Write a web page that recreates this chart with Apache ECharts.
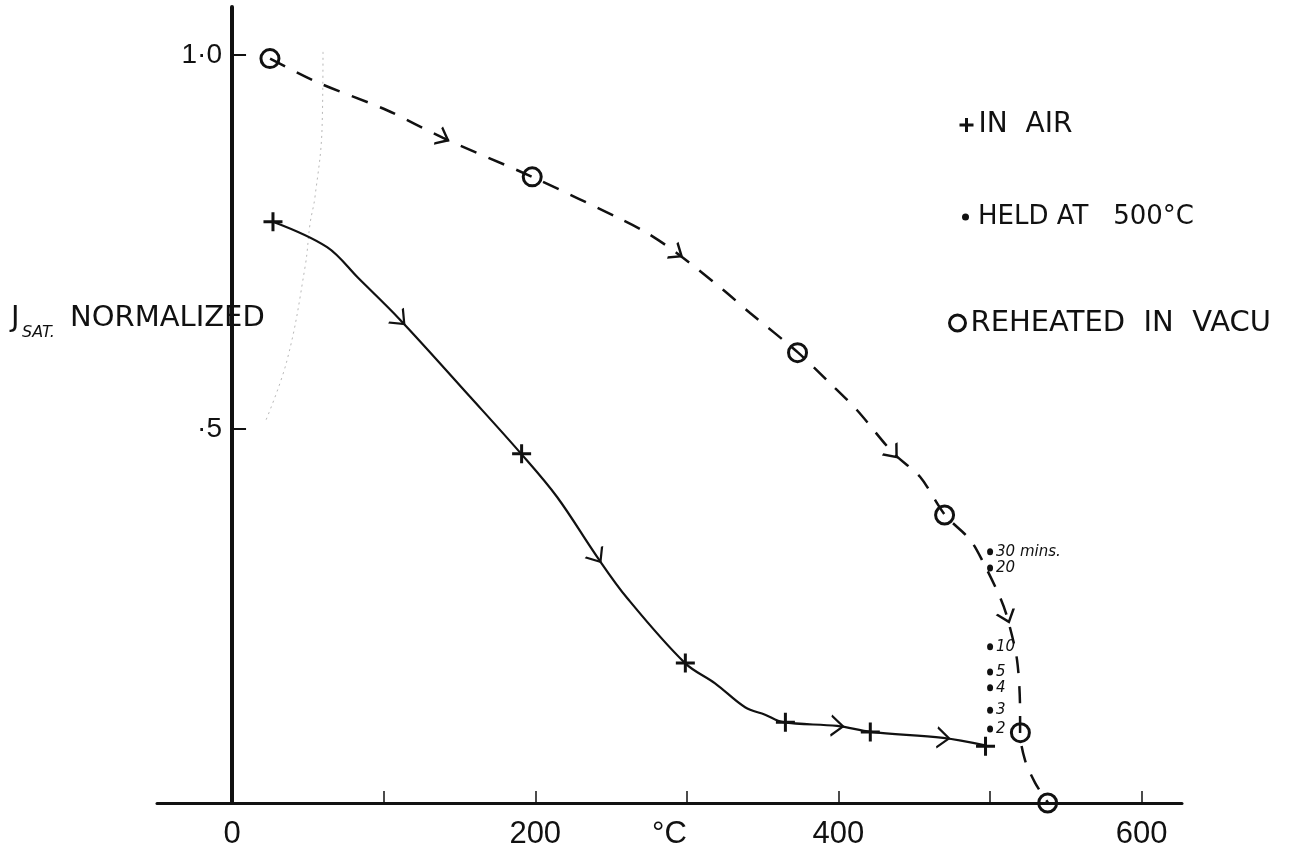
<!DOCTYPE html>
<html>
<head>
<meta charset="utf-8">
<title>J sat. normalized vs temperature</title>
<script src="https://cdn.jsdelivr.net/npm/echarts@6/dist/echarts.min.js"></script>
<style>
  html, body { margin: 0; padding: 0; background: #fff; }
  #chart { width: 1310px; height: 855px; }
</style>
</head>
<body>
<div id="chart"></div>
<script>
// ---- data: temperature (°C) vs normalized saturation current density ----
const airTemps   = [27, 191, 299, 365, 421, 497];
const airValues  = [0.777, 0.467, 0.187, 0.108, 0.095, 0.076];

// path of the hand-drawn solid curve through the in-air readings
const airCurve = [
  [27, 0.777], [62.7, 0.743], [83.1, 0.702], [110.8, 0.646], [157.0, 0.543],
  [190.6, 0.467], [214.4, 0.409], [240.8, 0.329], [260.6, 0.274],
  [298.8, 0.187], [318.6, 0.160], [338.4, 0.128], [351.6, 0.118], [363.5, 0.108],
  [399.1, 0.103], [421.5, 0.095], [469.0, 0.087], [496.7, 0.077]
];

const vacuumTemps  = [25, 198, 373, 470, 520, 538];
const vacuumValues = [0.995, 0.837, 0.602, 0.385, 0.094, 0];

// path of the dashed curve through the reheated-in-vacuum readings
const vacuumCurve = [
  [25.1, 0.995], [56.7, 0.963], [102.2, 0.926], [139.2, 0.889], [197.9, 0.837],
  [257.9, 0.779], [273.7, 0.762], [293.5, 0.735], [323.9, 0.686], [341.7, 0.655],
  [373.4, 0.602], [394.5, 0.561], [412.3, 0.525], [436.0, 0.468], [453.8, 0.436],
  [470.3, 0.385], [486.8, 0.352], [495.4, 0.322], [506.6, 0.275], [511.2, 0.249],
  [517.8, 0.191], [519.8, 0.120], [519.8, 0.094], [523.1, 0.057], [529.7, 0.027],
  [538.3, 0]
];

// readings taken while held at 500 °C, with the time held
const heldTemp    = 500;
const heldValues  = [0.336, 0.314, 0.209, 0.175, 0.154, 0.124, 0.099];
const heldMinutes = ['30 mins.', '20', '10', '5', '4', '3', '2'];

// direction arrows drawn along each curve
const airArrows    = [[110.8, 0.646], [240.8, 0.329], [399.1, 0.103], [469.0, 0.087]];
const vacuumArrows = [[139.2, 0.889], [293.5, 0.735], [436.0, 0.468], [511.2, 0.249]];

// faint pencil construction line near the origin
const pencilGuide = [
  [60.0, 1.004], [59.4, 0.904], [54.7, 0.810], [51.5, 0.775],
  [48.2, 0.717], [36.3, 0.592], [21.8, 0.509]
];

// axis ticks and labels
const xTickValues  = [100, 200, 300, 400, 500, 600];
const xLabelValues = [0, 200, 400, 600];
const yTickValues  = [0.5, 1.0];
const yTickLabels  = ['·5', '1·0'];

// ---- drawing ----
const SANS = "'DejaVu Sans', sans-serif";
const NUM  = "'Liberation Sans', Arial, sans-serif";
const INK  = '#111';

const PLUS    = 'path://M0,10L20,10M10,0L10,20';
const RING    = 'path://M10,0A10,10 0 1,1 10,20A10,10 0 1,1 10,0Z';
const CHEVRON = 'path://M0,0L13,10L0,20';

const pairs = (xs, ys) => xs.map((x, i) => [x, ys[i]]);

const chart = echarts.init(document.getElementById('chart'), null, { renderer: 'canvas' });

const option = {
  animation: false,
  backgroundColor: '#fff',
  grid: { left: 157, right: 128, top: 7, bottom: 52, outerBoundsMode: 'none', containLabel: false },
  xAxis: {
    type: 'value',
    min: -49.5,
    max: 626.6,
    name: '°C',
    nameLocation: 'middle',
    nameGap: 16,
    nameMoveOverlap: false,
    nameTextStyle: { fontFamily: NUM, fontSize: 31, color: INK, verticalAlign: 'top' },
    splitLine: { show: false },
    axisLine: { onZero: true, lineStyle: { color: INK, width: 3 } },
    axisTick: { show: true, inside: true, length: 12, customValues: xTickValues,
                lineStyle: { color: INK, width: 1.5 } },
    axisLabel: { customValues: xLabelValues, margin: 16, fontFamily: NUM, fontSize: 31,
                 color: INK, formatter: v => String(v) }
  },
  yAxis: {
    type: 'value',
    min: 0,
    max: 1.064,
    splitLine: { show: false },
    axisLine: { onZero: true, lineStyle: { color: INK, width: 4 } },
    axisTick: { show: true, inside: true, length: 14, customValues: yTickValues,
                lineStyle: { color: INK, width: 2 } },
    // labels sit just left of the zero-positioned axis line
    axisLabel: { customValues: yTickValues, margin: -65, fontFamily: NUM, fontSize: 28, color: INK,
                 formatter: v => yTickLabels[yTickValues.indexOf(v)] }
  },
  legend: [
    {
      left: 953, top: 105, selectedMode: false, itemWidth: 14, itemHeight: 15,
      textStyle: { fontFamily: SANS, fontSize: 28, color: INK, lineHeight: 30 },
      data: [{ name: 'IN  AIR', icon: PLUS,
               itemStyle: { color: 'transparent', borderColor: INK, borderWidth: 3 } }]
    },
    {
      left: 957, top: 197, selectedMode: false, itemWidth: 7, itemHeight: 10,
      textStyle: { fontFamily: SANS, fontSize: 26, color: INK, lineHeight: 30, padding: [0, 0, 0, 4] },
      data: [{ name: 'HELD AT   500°C', icon: 'circle', itemStyle: { color: INK } }]
    },
    {
      left: 943, top: 303, selectedMode: false, itemWidth: 16, itemHeight: 19,
      textStyle: { fontFamily: SANS, fontSize: 29, color: INK, lineHeight: 30 },
      data: [{ name: 'REHEATED  IN  VACU', icon: RING,
               itemStyle: { color: 'transparent', borderColor: INK, borderWidth: 3 } }]
    }
  ],
  graphic: [
    { type: 'text', x: 11, y: 318, silent: true,
      style: { text: 'J', font: '29px ' + SANS, fill: INK, verticalAlign: 'middle' } },
    { type: 'text', x: 22, y: 333, silent: true,
      style: { text: 'SAT.', font: 'italic 16px ' + SANS, fill: INK, verticalAlign: 'middle' } },
    { type: 'text', x: 70, y: 318, silent: true,
      style: { text: 'NORMALIZED', font: '29px ' + SANS, fill: INK, verticalAlign: 'middle' } }
  ],
  series: [
    {
      id: 'pencil', type: 'line', data: pencilGuide, smooth: 0.4, symbol: 'none', silent: true,
      lineStyle: { color: '#b8b8b8', width: 1, type: [2, 4] }, z: 1
    },
    {
      id: 'airCurve', type: 'line', data: airCurve, smooth: 0.35, symbol: 'none', silent: true,
      lineStyle: { color: INK, width: 2.2 }, z: 2
    },
    {
      id: 'vacuumCurve', type: 'line', data: vacuumCurve, smooth: 0.3, symbol: 'none', silent: true,
      lineStyle: { color: INK, width: 2.5, type: [17, 13] }, z: 2
    },
    {
      name: 'IN  AIR', type: 'scatter', data: pairs(airTemps, airValues),
      symbol: PLUS, symbolSize: 19,
      itemStyle: { color: 'transparent', borderColor: INK, borderWidth: 3, opacity: 1 }, z: 4
    },
    {
      name: 'HELD AT   500°C', type: 'scatter',
      data: heldValues.map((v, i) => ({ value: [heldTemp, v], name: heldMinutes[i] })),
      symbol: 'circle', symbolSize: [6, 7],
      itemStyle: { color: INK, opacity: 1 },
      label: { show: true, position: 'right', distance: 3, formatter: p => p.name,
               fontFamily: SANS, fontStyle: 'italic', fontSize: 15, color: INK },
      z: 4
    },
    {
      name: 'REHEATED  IN  VACU', type: 'scatter', data: pairs(vacuumTemps, vacuumValues),
      symbol: RING, symbolSize: 18,
      itemStyle: { color: 'transparent', borderColor: INK, borderWidth: 3, opacity: 1 }, z: 4
    },
    {
      id: 'airArrows', type: 'scatter', data: airArrows, symbol: CHEVRON, symbolSize: [12, 20],
      silent: true, itemStyle: { color: 'transparent', borderColor: INK, borderWidth: 2, opacity: 1 }, z: 3
    },
    {
      id: 'vacuumArrows', type: 'scatter', data: vacuumArrows, symbol: CHEVRON, symbolSize: [11, 18],
      silent: true, itemStyle: { color: 'transparent', borderColor: INK, borderWidth: 2.2, opacity: 1 }, z: 3
    }
  ]
};

chart.setOption(option);

// turn each arrow along the nearest stretch of its curve (screen space)
function orientAlong(points, path) {
  const px = path.map(p => chart.convertToPixel({ gridIndex: 0 }, p));
  return points.map(pt => {
    const q = chart.convertToPixel({ gridIndex: 0 }, pt);
    let best = Infinity, angle = 0;
    for (let i = 0; i < px.length - 1; i++) {
      const a = px[i], b = px[i + 1];
      const dx = b[0] - a[0], dy = b[1] - a[1];
      const len2 = dx * dx + dy * dy;
      if (!len2) continue;
      let t = ((q[0] - a[0]) * dx + (q[1] - a[1]) * dy) / len2;
      t = Math.max(0, Math.min(1, t));
      const ex = a[0] + t * dx - q[0], ey = a[1] + t * dy - q[1];
      const d = ex * ex + ey * ey;
      if (d < best) { best = d; angle = Math.atan2(-dy, dx) * 180 / Math.PI; }
    }
    return { value: pt, symbolRotate: angle };
  });
}

chart.setOption({
  series: [
    { id: 'airArrows', data: orientAlong(airArrows, airCurve) },
    { id: 'vacuumArrows', data: orientAlong(vacuumArrows, vacuumCurve) }
  ]
});
</script>
</body>
</html>
